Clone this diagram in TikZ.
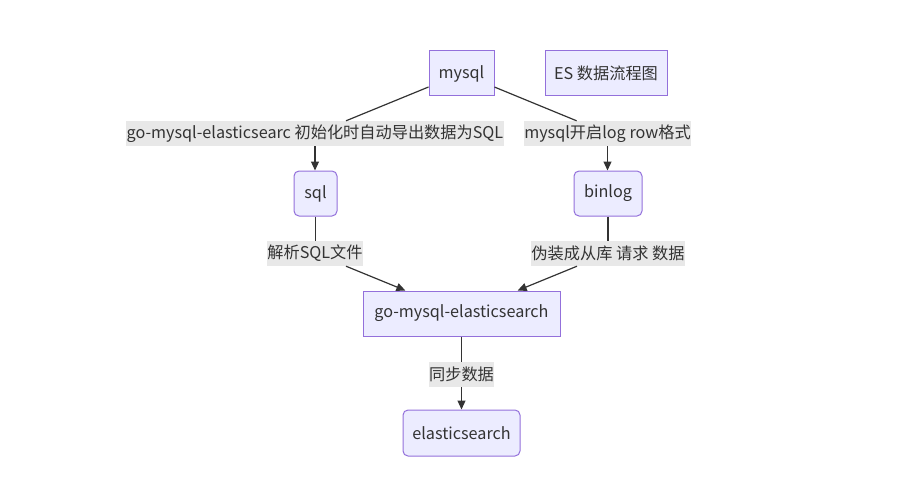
\documentclass[tikz,border=0pt]{standalone}
\usepackage{fontspec}
\setmainfont{Noto Sans CJK SC}
\usetikzlibrary{arrows.meta}
\definecolor{nodefill}{HTML}{ECECFF}
\definecolor{nodeline}{HTML}{9370DB}
\definecolor{ink}{HTML}{333333}
\definecolor{lblfill}{HTML}{E8E8E8}
\tikzset{
  box/.style={draw=nodeline, fill=nodefill, line width=1pt, inner sep=0pt, text=ink, font=\fontsize{16.2}{19}\selectfont},
  rbox/.style={box, rounded corners=5pt},
  lbl/.style={fill=lblfill, inner xsep=0.5pt, inner ysep=0pt, minimum height=25pt, text=ink, font=\fontsize{16.2}{19}\selectfont},
  edge/.style={draw=ink, line width=1.2pt},
  arr/.style={edge, -{Triangle[length=9pt,width=8pt]}}
}
\begin{document}
\begin{tikzpicture}[x=1pt,y=-1pt]
\useasboundingbox (0,0) rectangle (901,476);
\node[box, minimum width=65pt, minimum height=45pt] (mysql) at (461.5,73.5) {mysql};
\node[box, minimum width=122pt, minimum height=45pt] (title) at (606,73.5) {ES 数据流程图};
\node[rbox, minimum width=43pt, minimum height=45pt] (sql) at (315.5,193.5) {sql};
\node[rbox, minimum width=68pt, minimum height=45pt] (binlog) at (608,193.5) {binlog};
\node[box, minimum width=197pt, minimum height=45pt] (go) at (461.5,313.5) {go-mysql-elasticsearch};
\node[rbox, minimum width=117pt, minimum height=46pt] (es) at (461.5,433) {elasticsearch};

\node[lbl] (l1) at (315,133.5) {go-mysql-elasticsearc 初始化时自动导出数据为SQL};
\node[lbl] (l2) at (607.5,133.5) {mysql开启log row格式};
\node[lbl] (l3) at (315,253.5) {解析SQL文件};
\node[lbl] (l4) at (608,253.5) {伪装成从库 请求 数据};
\node[lbl] (l5) at (461.5,374.5) {同步数据};

\draw[edge] (mysql) -- (l1);
\draw[arr] (l1) -- (l1 |- sql.north);
\draw[edge] (mysql) -- (l2);
\draw[arr] (l2) -- (l2 |- binlog.north);
\draw[edge] (sql) -- (sql |- l3.north);
\draw[arr] (l3) -- (go);
\draw[edge] (binlog) -- (binlog |- l4.north);
\draw[arr] (l4) -- (go);
\draw[edge] (go) -- (l5);
\draw[arr] (l5) -- (es);
\end{tikzpicture}
\end{document}
